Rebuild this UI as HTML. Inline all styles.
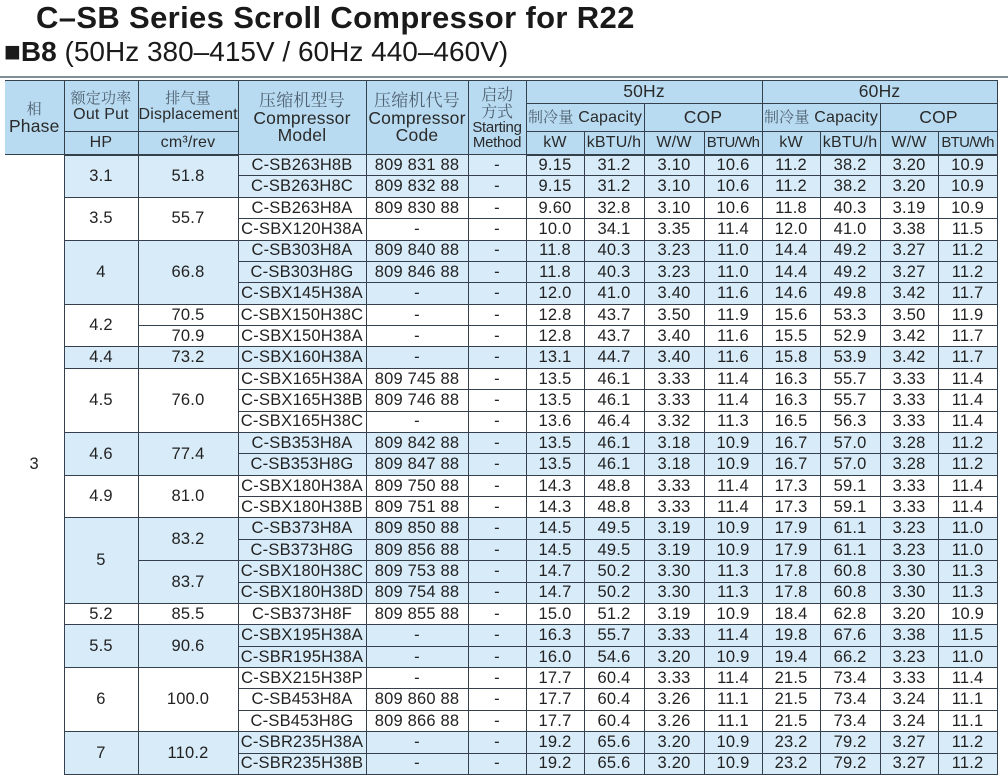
<!DOCTYPE html>
<html><head><meta charset="utf-8"><style>
body{margin:0;width:1008px;height:784px;background:#fff;position:relative;overflow:hidden;font-family:"Liberation Sans","Noto Sans CJK SC",sans-serif;color:#222}
.t1{position:absolute;left:36px;top:0px;font-size:31px;font-weight:bold;color:#1a1a1a;letter-spacing:0.35px;white-space:nowrap}
.t2{position:absolute;left:4px;top:36px;font-size:28px;color:#1a1a1a;white-space:nowrap}
.t2 b{font-weight:bold}
.bar{position:absolute;left:0;top:76px;width:1008px;height:2px;background:#7f8f98}
table{position:absolute;left:5px;top:80px;border-collapse:collapse;table-layout:fixed;width:992px}
td{border:1px solid #34404c;text-align:center;padding:0;font-size:16.5px;line-height:1;white-space:nowrap;overflow:hidden;letter-spacing:0.2px}
thead td{background:#b8dbf1;color:#2a2a2a;font-size:16px;line-height:1.0}
thead tr.h3 td{border-bottom:2px solid #34404c}
.cn{color:#4f6070;font-family:"Noto Serif CJK SC","Liberation Serif",serif;font-size:15px}
.big{font-size:17.5px}
tbody tr{height:21.38px}
.b td{background:#d8ebf8}
td.ph{background:#fff!important;border-left:none;border-bottom:none}
</style></head><body>
<div class="t1">C–SB Series Scroll Compressor for R22</div>
<div class="t2"><b>■B8</b> (50Hz 380–415V / 60Hz 440–460V)</div>
<div class="bar"></div>
<table>
<colgroup><col style="width:59px"><col style="width:74px"><col style="width:100px"><col style="width:128px"><col style="width:102px"><col style="width:58px"><col style="width:58px"><col style="width:60px"><col style="width:60px"><col style="width:58px"><col style="width:58px"><col style="width:60px"><col style="width:58px"><col style="width:59px"></colgroup>
<thead>
<tr style="height:23px"><td rowspan="3" style="border-left:none" class="big"><span class="cn">相</span><br>Phase</td><td rowspan="2"><span class="cn">额定功率</span><br>Out Put</td><td rowspan="2"><span class="cn">排气量</span><br>Displacement</td><td rowspan="3" class="big"><span class="cn" style="font-size:17px">压缩机型号</span><br>Compressor<br>Model</td><td rowspan="3" class="big"><span class="cn" style="font-size:17px">压缩机代号</span><br>Compressor<br>Code</td><td rowspan="3" style="font-size:15px;letter-spacing:-0.3px"><span class="cn" style="font-size:16px">启动<br>方式</span><br>Starting<br>Method</td><td colspan="4" class="big">50Hz</td><td colspan="4" class="big">60Hz</td></tr>
<tr style="height:28px"><td colspan="2"><span class="cn">制冷量</span> Capacity</td><td colspan="2" class="big">COP</td><td colspan="2"><span class="cn">制冷量</span> Capacity</td><td colspan="2" class="big">COP</td></tr>
<tr class="h3" style="height:23px"><td>HP</td><td>cm³/rev</td><td>kW</td><td>kBTU/h</td><td>W/W</td><td style="font-size:15px;letter-spacing:-0.7px">BTU/Wh</td><td>kW</td><td>kBTU/h</td><td>W/W</td><td style="font-size:15px;letter-spacing:-0.7px">BTU/Wh</td></tr>
</thead>
<tbody>
<tr class="b"><td class="ph" rowspan="29">3</td><td rowspan="2">3.1</td><td rowspan="2">51.8</td><td>C-SB263H8B</td><td>809 831 88</td><td>-</td><td>9.15</td><td>31.2</td><td>3.10</td><td>10.6</td><td>11.2</td><td>38.2</td><td>3.20</td><td>10.9</td></tr>
<tr class="b"><td>C-SB263H8C</td><td>809 832 88</td><td>-</td><td>9.15</td><td>31.2</td><td>3.10</td><td>10.6</td><td>11.2</td><td>38.2</td><td>3.20</td><td>10.9</td></tr>
<tr><td rowspan="2">3.5</td><td rowspan="2">55.7</td><td>C-SB263H8A</td><td>809 830 88</td><td>-</td><td>9.60</td><td>32.8</td><td>3.10</td><td>10.6</td><td>11.8</td><td>40.3</td><td>3.19</td><td>10.9</td></tr>
<tr><td>C-SBX120H38A</td><td>-</td><td>-</td><td>10.0</td><td>34.1</td><td>3.35</td><td>11.4</td><td>12.0</td><td>41.0</td><td>3.38</td><td>11.5</td></tr>
<tr class="b"><td rowspan="3">4</td><td rowspan="3">66.8</td><td>C-SB303H8A</td><td>809 840 88</td><td>-</td><td>11.8</td><td>40.3</td><td>3.23</td><td>11.0</td><td>14.4</td><td>49.2</td><td>3.27</td><td>11.2</td></tr>
<tr class="b"><td>C-SB303H8G</td><td>809 846 88</td><td>-</td><td>11.8</td><td>40.3</td><td>3.23</td><td>11.0</td><td>14.4</td><td>49.2</td><td>3.27</td><td>11.2</td></tr>
<tr class="b"><td>C-SBX145H38A</td><td>-</td><td>-</td><td>12.0</td><td>41.0</td><td>3.40</td><td>11.6</td><td>14.6</td><td>49.8</td><td>3.42</td><td>11.7</td></tr>
<tr><td rowspan="2">4.2</td><td>70.5</td><td>C-SBX150H38C</td><td>-</td><td>-</td><td>12.8</td><td>43.7</td><td>3.50</td><td>11.9</td><td>15.6</td><td>53.3</td><td>3.50</td><td>11.9</td></tr>
<tr><td>70.9</td><td>C-SBX150H38A</td><td>-</td><td>-</td><td>12.8</td><td>43.7</td><td>3.40</td><td>11.6</td><td>15.5</td><td>52.9</td><td>3.42</td><td>11.7</td></tr>
<tr class="b"><td>4.4</td><td>73.2</td><td>C-SBX160H38A</td><td>-</td><td>-</td><td>13.1</td><td>44.7</td><td>3.40</td><td>11.6</td><td>15.8</td><td>53.9</td><td>3.42</td><td>11.7</td></tr>
<tr><td rowspan="3">4.5</td><td rowspan="3">76.0</td><td>C-SBX165H38A</td><td>809 745 88</td><td>-</td><td>13.5</td><td>46.1</td><td>3.33</td><td>11.4</td><td>16.3</td><td>55.7</td><td>3.33</td><td>11.4</td></tr>
<tr><td>C-SBX165H38B</td><td>809 746 88</td><td>-</td><td>13.5</td><td>46.1</td><td>3.33</td><td>11.4</td><td>16.3</td><td>55.7</td><td>3.33</td><td>11.4</td></tr>
<tr><td>C-SBX165H38C</td><td>-</td><td>-</td><td>13.6</td><td>46.4</td><td>3.32</td><td>11.3</td><td>16.5</td><td>56.3</td><td>3.33</td><td>11.4</td></tr>
<tr class="b"><td rowspan="2">4.6</td><td rowspan="2">77.4</td><td>C-SB353H8A</td><td>809 842 88</td><td>-</td><td>13.5</td><td>46.1</td><td>3.18</td><td>10.9</td><td>16.7</td><td>57.0</td><td>3.28</td><td>11.2</td></tr>
<tr class="b"><td>C-SB353H8G</td><td>809 847 88</td><td>-</td><td>13.5</td><td>46.1</td><td>3.18</td><td>10.9</td><td>16.7</td><td>57.0</td><td>3.28</td><td>11.2</td></tr>
<tr><td rowspan="2">4.9</td><td rowspan="2">81.0</td><td>C-SBX180H38A</td><td>809 750 88</td><td>-</td><td>14.3</td><td>48.8</td><td>3.33</td><td>11.4</td><td>17.3</td><td>59.1</td><td>3.33</td><td>11.4</td></tr>
<tr><td>C-SBX180H38B</td><td>809 751 88</td><td>-</td><td>14.3</td><td>48.8</td><td>3.33</td><td>11.4</td><td>17.3</td><td>59.1</td><td>3.33</td><td>11.4</td></tr>
<tr class="b"><td rowspan="4">5</td><td rowspan="2">83.2</td><td>C-SB373H8A</td><td>809 850 88</td><td>-</td><td>14.5</td><td>49.5</td><td>3.19</td><td>10.9</td><td>17.9</td><td>61.1</td><td>3.23</td><td>11.0</td></tr>
<tr class="b"><td>C-SB373H8G</td><td>809 856 88</td><td>-</td><td>14.5</td><td>49.5</td><td>3.19</td><td>10.9</td><td>17.9</td><td>61.1</td><td>3.23</td><td>11.0</td></tr>
<tr class="b"><td rowspan="2">83.7</td><td>C-SBX180H38C</td><td>809 753 88</td><td>-</td><td>14.7</td><td>50.2</td><td>3.30</td><td>11.3</td><td>17.8</td><td>60.8</td><td>3.30</td><td>11.3</td></tr>
<tr class="b"><td>C-SBX180H38D</td><td>809 754 88</td><td>-</td><td>14.7</td><td>50.2</td><td>3.30</td><td>11.3</td><td>17.8</td><td>60.8</td><td>3.30</td><td>11.3</td></tr>
<tr><td>5.2</td><td>85.5</td><td>C-SB373H8F</td><td>809 855 88</td><td>-</td><td>15.0</td><td>51.2</td><td>3.19</td><td>10.9</td><td>18.4</td><td>62.8</td><td>3.20</td><td>10.9</td></tr>
<tr class="b"><td rowspan="2">5.5</td><td rowspan="2">90.6</td><td>C-SBX195H38A</td><td>-</td><td>-</td><td>16.3</td><td>55.7</td><td>3.33</td><td>11.4</td><td>19.8</td><td>67.6</td><td>3.38</td><td>11.5</td></tr>
<tr class="b"><td>C-SBR195H38A</td><td>-</td><td>-</td><td>16.0</td><td>54.6</td><td>3.20</td><td>10.9</td><td>19.4</td><td>66.2</td><td>3.23</td><td>11.0</td></tr>
<tr><td rowspan="3">6</td><td rowspan="3">100.0</td><td>C-SBX215H38P</td><td>-</td><td>-</td><td>17.7</td><td>60.4</td><td>3.33</td><td>11.4</td><td>21.5</td><td>73.4</td><td>3.33</td><td>11.4</td></tr>
<tr><td>C-SB453H8A</td><td>809 860 88</td><td>-</td><td>17.7</td><td>60.4</td><td>3.26</td><td>11.1</td><td>21.5</td><td>73.4</td><td>3.24</td><td>11.1</td></tr>
<tr><td>C-SB453H8G</td><td>809 866 88</td><td>-</td><td>17.7</td><td>60.4</td><td>3.26</td><td>11.1</td><td>21.5</td><td>73.4</td><td>3.24</td><td>11.1</td></tr>
<tr class="b"><td rowspan="2">7</td><td rowspan="2">110.2</td><td>C-SBR235H38A</td><td>-</td><td>-</td><td>19.2</td><td>65.6</td><td>3.20</td><td>10.9</td><td>23.2</td><td>79.2</td><td>3.27</td><td>11.2</td></tr>
<tr class="b"><td>C-SBR235H38B</td><td>-</td><td>-</td><td>19.2</td><td>65.6</td><td>3.20</td><td>10.9</td><td>23.2</td><td>79.2</td><td>3.27</td><td>11.2</td></tr>
</tbody>
</table>
</body></html>
